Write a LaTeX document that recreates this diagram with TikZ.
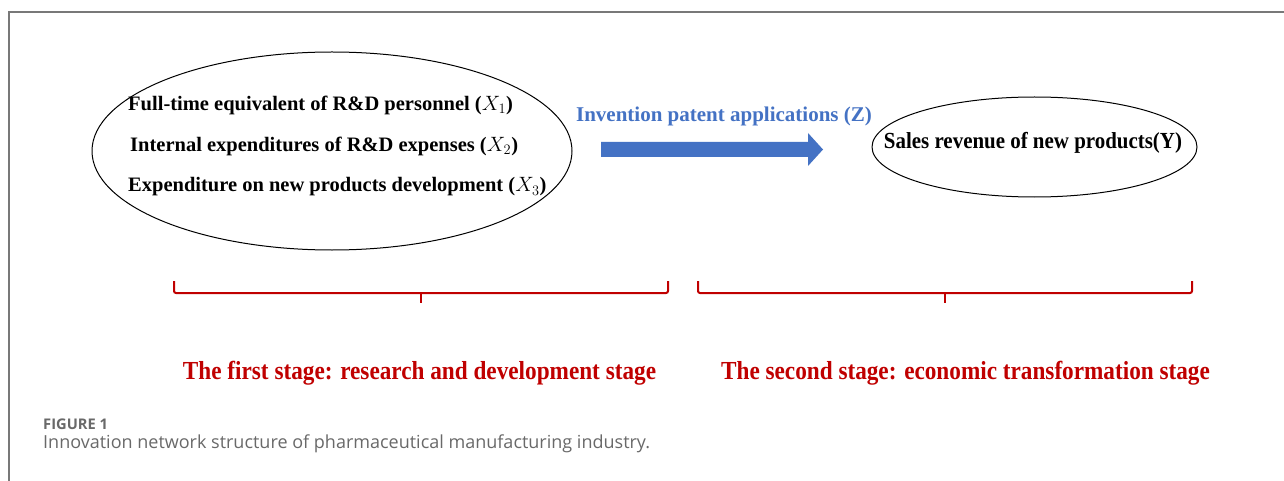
\documentclass[tikz,border=0pt]{standalone}
\usepackage{fontspec}
\usepackage{graphicx}
\setmainfont{Liberation Serif}
\newfontfamily\capfont{Open Sans}
\usetikzlibrary{shapes.geometric}
\definecolor{officeblue}{HTML}{4472C4}
\definecolor{stagered}{HTML}{C00000}
\definecolor{framegray}{RGB}{120,120,120}
\definecolor{capgray}{RGB}{105,105,105}
\newcommand\narrow[2]{\scalebox{#1}[1]{#2}}
\begin{document}
\begin{tikzpicture}[x=1pt,y=-1pt,
  oval/.style={draw=black,line width=1pt,ellipse,inner sep=0pt},
  itemtext/.style={anchor=west,inner sep=0pt,font=\bfseries\fontsize{20.5}{24}\selectfont},
  bluetext/.style={inner sep=0pt,text=officeblue,font=\bfseries\fontsize{21}{24}\selectfont},
  stagetext/.style={inner sep=0pt,text=stagered,font=\bfseries\fontsize{26}{30}\selectfont},
  brace/.style={draw=stagered,line width=2pt,rounded corners=2pt},
  captext/.style={anchor=west,inner sep=0pt,text=capgray}]
% canvas
\useasboundingbox (0,0) rectangle (1284,481);
\fill[white] (0,0) rectangle (1284,481);
% figure frame (left and top edges)
\draw[framegray,line width=1.5pt] (9,481) -- (9,12) -- (1284,12);

% first stage: inputs
\node[oval,minimum width=480pt,minimum height=198pt] (inputs) at (332,151) {};
\node[itemtext] (x1) at (128,105) {Full-time equivalent of R\&D personnel ($X_1$)};
\node[itemtext] (x2) at (130,146) {Internal expenditures of R\&D expenses ($X_2$)};
\node[itemtext] (x3) at (128,187) {Expenditure on new products development ($X_3$)};

% intermediate output
\node[bluetext] (z) at (724,116) {Invention patent applications (Z)};
\fill[officeblue] (601,142) -- (808,142) -- (808,133) -- (823,149.5) -- (808,166) -- (808,157) -- (601,157) -- cycle;

% second stage: output
\node[oval,minimum width=325pt,minimum height=100pt] (output) at (1034.5,147) {};
\node[inner sep=0pt,font=\bfseries\fontsize{23}{26}\selectfont] (y) at (1033,143) {\narrow{0.91}{Sales revenue of new products(Y)}};

% stage braces
\draw[brace] (174,281) -- (174,293) -- (668,293) -- (668,281);
\draw[stagered,line width=2pt] (421,293) -- (421,303);
\draw[brace] (698,281) -- (698,293) -- (1192,293) -- (1192,281);
\draw[stagered,line width=2pt] (945,293) -- (945,303);

\node[stagetext] (s1) at (419.5,373) {\narrow{0.893}{The first stage: research and development stage}};
\node[stagetext] (s2) at (965.5,373) {\narrow{0.893}{The second stage: economic transformation stage}};

% caption
\node[captext,font=\capfont\bfseries\fontsize{14.7}{17}\selectfont] (figlabel) at (43,424) {FIGURE 1};
\node[captext,font=\capfont\fontsize{18}{21}\selectfont] (caption) at (43,444) {Innovation network structure of pharmaceutical manufacturing industry.};
\end{tikzpicture}
\end{document}
